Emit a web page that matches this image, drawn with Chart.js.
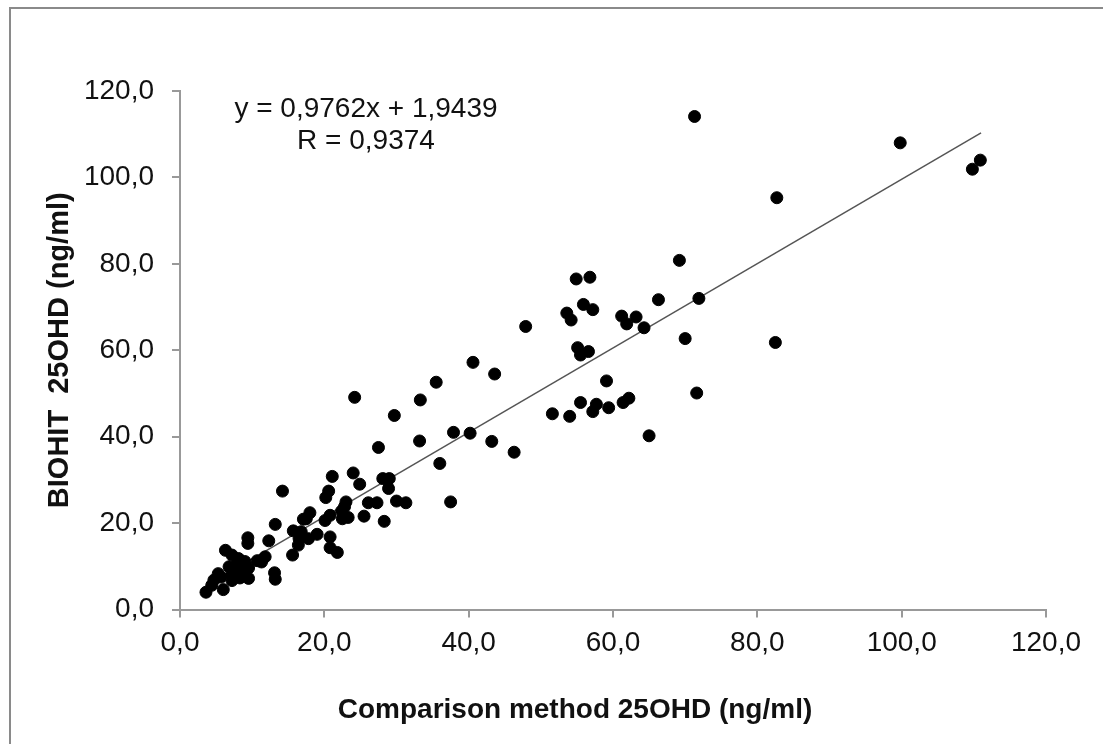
<!DOCTYPE html>
<html>
<head>
<meta charset="utf-8">
<script src="https://cdn.jsdelivr.net/npm/chart.js@4.4.1/dist/chart.umd.min.js"></script>
<style>
  body { margin: 0; overflow: hidden; background: #fff; }
  #frame { position: absolute; left: 9px; top: 7px; width: 1110px; height: 800px; border: 2px solid #8a8a8a; }
  #myChart { position: absolute; left: 0; top: 0; }
</style>
</head>
<body>
<div id="frame"></div>
<canvas id="myChart" width="1103" height="744"></canvas>
<script>
// 
// Data
// 
var comparison = [71.3, 99.8, 110.9, 109.8, 82.7, 69.2, 66.3, 71.9, 64.3, 70.0, 82.5, 71.6,
    54.9, 56.8, 53.6, 54.2, 55.9, 57.2, 61.2, 63.2, 61.9, 47.9, 55.1, 55.5, 56.6, 40.6,
    43.6, 35.5, 33.3, 59.1, 55.5, 57.7, 57.2, 59.4, 61.4, 62.2, 51.6, 54.0, 65.0, 33.2,
    37.9, 40.2, 43.2, 46.3, 36.0, 37.5, 24.2, 29.7, 27.5, 21.1, 24.0, 14.2, 24.9, 28.1,
    29.0, 28.9, 20.6, 20.2, 23.0, 22.8, 26.1, 27.3, 30.0, 31.3, 22.4, 18.0, 17.5, 17.1,
    20.8, 20.1, 22.5, 23.3, 25.5, 28.3, 13.2, 15.7, 16.8, 16.5, 17.8, 19.0, 20.8, 12.3,
    16.4, 20.8, 21.8, 15.6, 11.8, 11.3, 9.4, 9.4, 13.1, 13.2, 6.3, 7.2, 8.1, 9.0, 6.8,
    7.9, 8.8, 9.5, 5.3, 7.2, 8.6, 4.7, 7.2, 9.5, 4.4, 6.0, 3.6, 8.3, 10.7, 7.7, 5.7]
var biohit = [114.1, 108.0, 104.0, 101.9, 95.3, 80.8, 71.7, 72.0, 65.2, 62.7, 61.8, 50.1,
    76.5, 76.9, 68.6, 67.0, 70.6, 69.4, 67.9, 67.7, 66.1, 65.5, 60.6, 58.9, 59.7, 57.2,
    54.5, 52.6, 48.5, 52.9, 47.9, 47.5, 45.8, 46.7, 47.9, 48.9, 45.3, 44.7, 40.2, 39.0,
    41.0, 40.8, 38.9, 36.4, 33.8, 24.9, 49.1, 44.9, 37.5, 30.8, 31.6, 27.4, 29.0, 30.3,
    30.3, 28.0, 27.4, 25.9, 24.9, 23.8, 24.7, 24.7, 25.1, 24.7, 22.8, 22.4, 21.0, 20.9,
    21.8, 20.6, 21.0, 21.3, 21.6, 20.4, 19.7, 18.2, 18.0, 16.4, 16.4, 17.4, 16.8, 15.9,
    14.9, 14.3, 13.2, 12.6, 12.2, 11.0, 16.6, 15.3, 8.5, 7.0, 13.7, 12.6, 11.8, 11.1, 9.9,
    10.6, 9.8, 9.6, 8.3, 8.3, 8.3, 6.8, 6.7, 7.2, 5.6, 4.6, 4.0, 7.3, 11.3, 9.3, 7.5]

var slope = 0.9762
var intercept = 1.9439
var rValue = 0.9374
var trendX = [3.6, 111.0]

var axisTicks = [0, 20, 40, 60, 80, 100, 120]
var xTitle = 'Comparison method 25OHD (ng/ml)'
var yTitle = 'BIOHIT  25OHD (ng/ml)'

function comma(v) {
    return v.toFixed(1).replace('.', ',')
}

var points = comparison.map((x, i) => ({ x: x, y: biohit[i] }))
var trend = trendX.map(x => ({ x: x, y: slope * x + intercept }))

// equation + x title, drawn at fixed place like in the original
var textPlugin = {
    id: 'texts',
    afterDraw: (chart) => {
        var ctx = chart.ctx
        ctx.save()
        ctx.fillStyle = '#111'
        ctx.textAlign = 'center'
        ctx.textBaseline = 'alphabetic'
        ctx.font = '28px "Liberation Sans", Arial, sans-serif'
        ctx.fillText('y = ' + slope.toFixed(4).replace('.', ',') + 'x + ' + intercept.toFixed(4).replace('.', ','), 366, 117)
        ctx.fillText('R = ' + rValue.toFixed(4).replace('.', ','), 366, 149)
        ctx.font = 'bold 28px "Liberation Sans", Arial, sans-serif'
        ctx.fillText(xTitle, 575, 718)
        ctx.restore()
    }
}

var canvas = document.getElementById("myChart")
var tickFont = { family: '"Liberation Sans", Arial, sans-serif', size: 28 }

var myChart = new Chart(canvas, {
    type: 'scatter',
    data: {
        datasets: [{
            label: 'data',
            data: points,
            backgroundColor: '#000',
            borderColor: '#000',
            pointRadius: 6,
            pointHoverRadius: 6
        },
        {
            type: 'line',
            label: 'trend',
            data: trend,
            borderColor: '#555',
            borderWidth: 1.5,
            pointRadius: 0,
            fill: false
        }]
    },
    options: {
        responsive: false,
        animation: false,
        layout: { padding: { left: 0, right: 57, top: 91, bottom: 0 } },
        plugins: {
            legend: { display: false },
            tooltip: { enabled: false }
        },
        scales: {
            x: {
                type: 'linear',
                min: 0,
                max: 120,
                afterBuildTicks: (s) => { s.ticks = axisTicks.map(v => ({ value: v })) },
                afterFit: (s) => { s.height = 134.5 },
                ticks: {
                    font: tickFont,
                    color: '#111',
                    padding: 9,
                    maxRotation: 0,
                    callback: (v) => comma(v)
                },
                grid: { drawOnChartArea: false, color: '#999', lineWidth: 2, tickLength: 8 },
                border: { color: '#999', width: 2 }
            },
            y: {
                type: 'linear',
                min: 0,
                max: 120,
                afterBuildTicks: (s) => { s.ticks = axisTicks.map(v => ({ value: v })) },
                afterFit: (s) => { s.width = 180 },
                ticks: {
                    font: tickFont,
                    color: '#111',
                    padding: 18,
                    callback: (v) => comma(v)
                },
                grid: { drawOnChartArea: false, color: '#999', lineWidth: 2, tickLength: 8 },
                border: { color: '#999', width: 2 },
                title: {
                    display: true,
                    text: yTitle,
                    color: '#111',
                    font: { family: '"Liberation Sans", Arial, sans-serif', size: 29, weight: 'bold' },
                    padding: { top: 43 }
                }
            }
        }
    },
    plugins: [textPlugin]
})
</script>
</body>
</html>
